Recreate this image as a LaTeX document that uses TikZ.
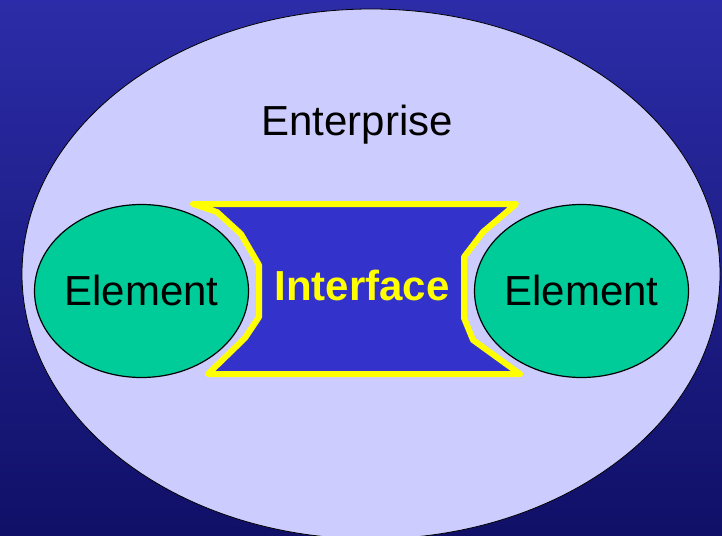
\documentclass[tikz,border=0pt]{standalone}
\usepackage{fontspec}
\setmainfont{Liberation Sans}
\usetikzlibrary{shapes.geometric}
\definecolor{bgtop}{RGB}{44,44,168}
\definecolor{bgbot}{RGB}{16,16,104}
\definecolor{entfill}{RGB}{204,204,255}
\definecolor{elemfill}{RGB}{0,204,153}
\definecolor{iffill}{RGB}{51,51,204}
\definecolor{ifline}{RGB}{255,255,0}
\tikzset{
  elembox/.style={ellipse, draw=black, line width=1.2pt, fill=elemfill,
    minimum width=214pt, minimum height=173pt, inner sep=0pt},
  bigtext/.style={font=\fontsize{42}{48}\selectfont, text=black, inner sep=0pt},
  iftext/.style={font=\bfseries\fontsize{42}{48}\selectfont, text=ifline, inner sep=0pt},
  ifshape/.style={draw=ifline, fill=iffill, line width=6pt, line join=round, line cap=round}
}
\begin{document}
\begin{tikzpicture}[x=1pt,y=-1pt]
\useasboundingbox (0,0) rectangle (722,535);
\shade[top color=bgtop, bottom color=bgbot] (0,0) rectangle (722,535);
\begin{scope}
\clip (0,0) rectangle (722,535);
\node[ellipse, draw=black, line width=0.8pt, fill=entfill, minimum width=698pt,
  minimum height=530pt, inner sep=0pt] (ent) at (371,274) {};
\end{scope}
\node[bigtext, anchor=base] (enttext) at (357,135) {Enterprise};
\node[elembox] (eleft) at (141.5,291) {};
\node[elembox] (eright) at (581.5,291) {};
\node[bigtext, anchor=base] (tleft) at (141.5,305.5) {Element};
\node[bigtext, anchor=base] (tright) at (581.5,305.5) {Element};
\path[ifshape] (193,204) -- (217,212) -- (241,234) -- (259,265) -- (259,317)
  -- (245,338) -- (208,374) -- (520,374) -- (473,340) -- (464,318) -- (464,257)
  -- (483,232) -- (516,204) -- cycle;
\node[iftext, anchor=base] (iface) at (362,300) {Interface};
\end{tikzpicture}
\end{document}
